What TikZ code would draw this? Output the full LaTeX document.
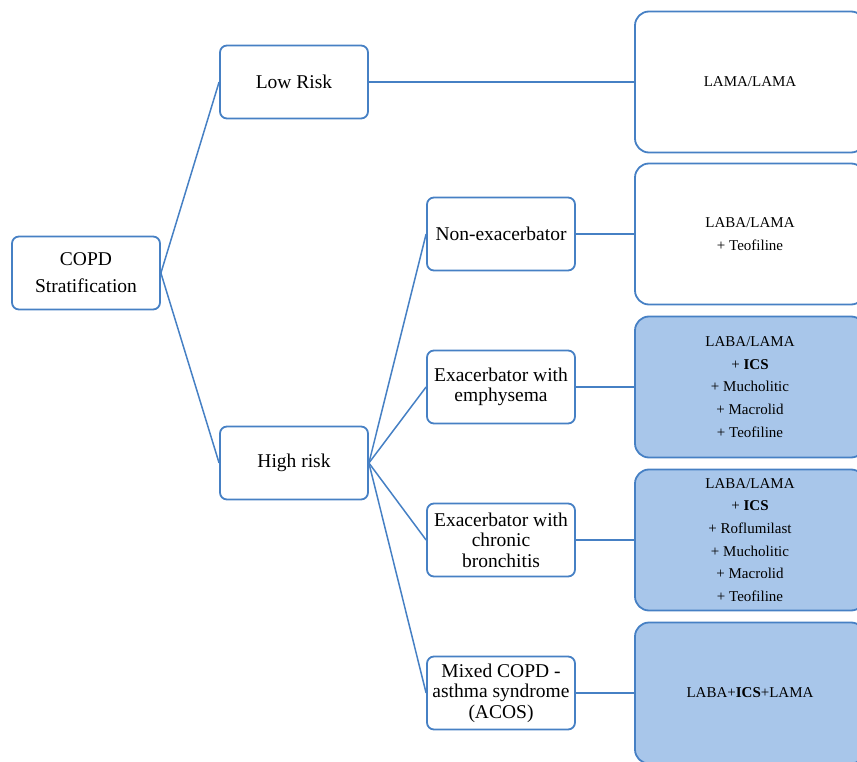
\documentclass[tikz,border=0pt]{standalone}
\usepackage{fontspec}
\setmainfont{Liberation Serif}
\newfontfamily\boxfont{Liberation Serif}
\usetikzlibrary{positioning}
\definecolor{boxline}{RGB}{70,128,196}
\definecolor{boxfill}{RGB}{168,198,234}

\begin{document}
\begin{tikzpicture}[x=1pt,y=-1pt,
   grp/.style={draw=boxline,line width=1.8pt,rounded corners=7pt,fill=white,
               minimum width=148pt,minimum height=73pt,align=center,
               font=\boxfont\fontsize{19.5}{20.5}\selectfont},
   rx/.style={draw=boxline,line width=1.8pt,rounded corners=14pt,fill=white,
              minimum width=230pt,minimum height=141pt,align=center,
              font=\boxfont\fontsize{15}{22.6}\selectfont},
   rxhi/.style={rx,fill=boxfill},
   link/.style={draw=boxline,line width=1.5pt}]
  \useasboundingbox (0,0) rectangle (857,762);
  \clip (0,0) rectangle (857,762);
  % stratification tree
  \node[grp,font=\boxfont\fontsize{19.5}{27}\selectfont] (copd) at (86,273) {COPD\\Stratification};
  \node[grp] (low)    at (294,82)  {Low Risk};
  \node[grp] (high)   at (294,463) {High risk};
  \node[grp] (nonex)  at (501,234) {Non-exacerbator};
  \node[grp] (emph)   at (501,387) {Exacerbator with\\emphysema};
  \node[grp] (bronch) at (501,540) {Exacerbator with\\chronic\\bronchitis};
  \node[grp] (acos)   at (501,693) {Mixed COPD -\\asthma syndrome\\(ACOS)};
  % treatments
  \node[rx]   (tlow)    at (750,82)  {LAMA/LAMA};
  \node[rx]   (tnonex)  at (750,234) {LABA/LAMA\\+ Teofiline};
  \node[rxhi] (temph)   at (750,387) {LABA/LAMA\\+ \textbf{ICS}\\+ Mucholitic\\+ Macrolid\\+ Teofiline};
  \node[rxhi] (tbronch) at (750,540) {LABA/LAMA\\+ \textbf{ICS}\\+ Roflumilast\\+ Mucholitic\\+ Macrolid\\+ Teofiline};
  \node[rxhi] (tacos)   at (750,693) {LABA+\textbf{ICS}+LAMA};
  % links
  \draw[link] (copd.east) -- (low.west);
  \draw[link] (copd.east) -- (high.west);
  \draw[link] (low.east) -- (tlow.west);
  \foreach \g in {nonex,emph,bronch,acos}{
    \draw[link] (high.east) -- (\g.west);
    \draw[link] (\g.east) -- (t\g.west);
  }
\end{tikzpicture}
\end{document}
